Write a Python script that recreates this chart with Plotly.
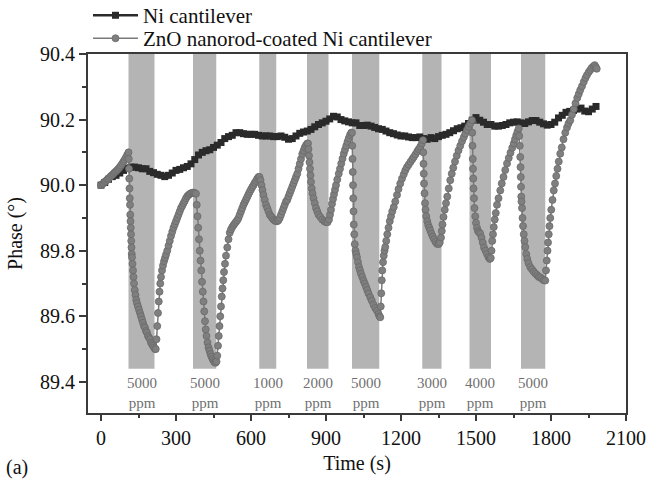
import plotly.graph_objects as go

# ---------------- data ----------------
# Ni cantilever (read every 15 s)
ni_time = list(range(0, 1981, 15))
ni_phase = [90.000, 90.008, 90.018, 90.026, 90.030, 90.037, 90.045, 90.052, 90.055, 90.055,
            90.053, 90.050, 90.050, 90.042, 90.038, 90.033, 90.030, 90.026, 90.030, 90.037,
            90.045, 90.048, 90.053, 90.057, 90.065, 90.078, 90.092, 90.100, 90.105, 90.108,
            90.115, 90.122, 90.130, 90.142, 90.148, 90.152, 90.160, 90.160, 90.157, 90.155,
            90.155, 90.155, 90.152, 90.150, 90.150, 90.150, 90.148, 90.148, 90.150, 90.146,
            90.140, 90.142, 90.150, 90.158, 90.162, 90.165, 90.170, 90.178, 90.185, 90.190,
            90.195, 90.202, 90.210, 90.208, 90.200, 90.196, 90.193, 90.190, 90.190, 90.182,
            90.182, 90.183, 90.180, 90.176, 90.172, 90.170, 90.165, 90.160, 90.157, 90.153,
            90.150, 90.150, 90.147, 90.145, 90.145, 90.147, 90.142, 90.140, 90.145, 90.142,
            90.148, 90.152, 90.155, 90.160, 90.166, 90.172, 90.175, 90.180, 90.188, 90.198,
            90.206, 90.198, 90.192, 90.185, 90.185, 90.180, 90.180, 90.182, 90.185, 90.190,
            90.192, 90.193, 90.190, 90.188, 90.193, 90.197, 90.197, 90.192, 90.187, 90.183,
            90.185, 90.192, 90.205, 90.213, 90.222, 90.225, 90.228, 90.232, 90.235, 90.226,
            90.224, 90.232, 90.240]

# ZnO nanorod-coated Ni cantilever, read segment by segment
seg_t = [
    [0, 5, 10, 15, 20, 25, 30, 35, 40, 45, 50, 55, 60, 65, 70, 75, 80, 85, 90, 95, 100, 105, 110],
    [111, 112, 113, 114, 115, 116, 117, 118, 119, 120, 121, 122, 123, 124, 126, 128, 130, 132, 135, 138,
     141, 144, 148, 152, 156, 160, 164, 168, 172, 176, 180, 184, 188, 192, 196, 200, 204, 208, 212, 216, 219],
    [222, 225, 228, 231, 234, 237, 240, 244, 248, 252, 256, 260, 265, 270, 275, 280, 285, 290, 295, 300,
     305, 310, 315, 320, 325, 330, 335, 340, 345, 350, 355, 360, 365, 370, 375, 380],
    [383, 386, 389, 392, 395, 398, 401, 404, 407, 410, 413, 416, 419, 422, 426, 430, 434, 438, 442, 446,
     450, 454, 458, 462],
    [465, 468, 471, 474, 477, 480, 483, 486, 489, 492, 496, 500, 505, 510, 515, 520, 525, 530, 535, 540,
     545, 550, 555, 560, 565, 570, 575, 580, 585, 590, 595, 600, 605, 610, 615, 620, 625, 630, 634],
    [638, 642, 646, 650, 655, 660, 665, 670, 675, 680, 685, 690, 695, 700, 705, 710],
    [715, 720, 725, 730, 735, 740, 745, 750, 755, 760, 765, 770, 775, 780, 785, 790, 795, 800, 805, 810,
     815, 820, 825, 828],
    [830, 832, 834, 836, 838, 840, 843, 846, 850, 855, 860, 865, 870, 877, 885, 893, 900, 906, 912],
    [916, 920, 924, 928, 932, 936, 940, 945, 951, 956, 961, 966, 971, 976, 981, 986, 991, 996, 1001, 1004],
    [1005, 1006, 1007, 1008, 1009, 1010, 1011, 1013, 1015, 1018, 1021, 1024, 1028, 1032, 1036, 1040, 1045,
     1050, 1055, 1060, 1065, 1070, 1077, 1083, 1090, 1097, 1104, 1110, 1114, 1117],
    [1119, 1121, 1123, 1125, 1128, 1131, 1134, 1137, 1141, 1145, 1150, 1155, 1160, 1165, 1171, 1177, 1184,
     1190, 1197, 1204, 1211, 1217, 1224, 1231, 1238, 1245, 1251, 1258, 1265, 1271, 1277, 1283, 1288],
    [1289, 1290, 1291, 1292, 1294, 1296, 1298, 1301, 1305, 1309, 1313, 1317, 1322, 1327, 1332, 1338, 1344,
     1350, 1355],
    [1360, 1363, 1366, 1370, 1375, 1380, 1385, 1391, 1397, 1403, 1409, 1416, 1423, 1430, 1437, 1444, 1451,
     1457, 1464, 1470, 1477, 1484],
    [1485, 1486, 1487, 1488, 1489, 1490, 1492, 1494, 1497, 1500, 1504, 1508, 1512, 1517, 1522, 1527, 1532,
     1538, 1544, 1550, 1555, 1559],
    [1562, 1565, 1568, 1571, 1575, 1579, 1584, 1590, 1597, 1603, 1610, 1617, 1624, 1631, 1638, 1645, 1651,
     1656, 1661, 1666, 1671],
    [1673, 1675, 1677, 1678, 1679, 1680, 1681, 1682, 1684, 1686, 1688, 1691, 1694, 1697, 1701, 1705, 1710,
     1717, 1724, 1731, 1738, 1745, 1751, 1757, 1764, 1771, 1777],
    [1780, 1783, 1786, 1788, 1791, 1794, 1797, 1801, 1806, 1811, 1816, 1821, 1826, 1831, 1837, 1843, 1850,
     1857, 1864, 1870, 1877, 1884, 1891, 1898, 1905, 1911, 1917, 1924, 1931, 1938, 1944, 1951, 1957, 1963,
     1970, 1975, 1979, 1983],
]
seg_v = [
    [90.000, 90.003, 90.006, 90.010, 90.013, 90.017, 90.020, 90.024, 90.028, 90.031, 90.035, 90.039,
     90.042, 90.046, 90.050, 90.055, 90.060, 90.066, 90.072, 90.078, 90.085, 90.093, 90.100],
    [90.08, 90.05, 90.02, 89.99, 89.96, 89.94, 89.91, 89.89, 89.87, 89.85, 89.83, 89.81, 89.79, 89.78,
     89.76, 89.74, 89.72, 89.70, 89.68, 89.665, 89.65, 89.64, 89.63, 89.62, 89.61, 89.60, 89.59, 89.58,
     89.57, 89.565, 89.555, 89.55, 89.54, 89.535, 89.53, 89.52, 89.515, 89.51, 89.505, 89.50, 89.50],
    [89.53, 89.57, 89.61, 89.645, 89.675, 89.70, 89.72, 89.74, 89.755, 89.768, 89.778, 89.788, 89.80,
     89.815, 89.83, 89.845, 89.858, 89.87, 89.88, 89.89, 89.90, 89.91, 89.92, 89.93, 89.937, 89.945,
     89.952, 89.96, 89.966, 89.97, 89.973, 89.975, 89.977, 89.977, 89.976, 89.974],
    [89.94, 89.905, 89.87, 89.835, 89.80, 89.77, 89.74, 89.705, 89.675, 89.645, 89.615, 89.585, 89.56,
     89.54, 89.52, 89.505, 89.495, 89.485, 89.477, 89.47, 89.465, 89.46, 89.458, 89.462],
    [89.48, 89.51, 89.54, 89.57, 89.60, 89.63, 89.66, 89.685, 89.71, 89.735, 89.76, 89.785, 89.81,
     89.835, 89.855, 89.865, 89.872, 89.878, 89.883, 89.888, 89.893, 89.90, 89.91, 89.92, 89.93, 89.94,
     89.948, 89.956, 89.964, 89.972, 89.98, 89.987, 89.994, 90.00, 90.007, 90.013, 90.02, 90.025, 90.025],
    [90.015, 90.00, 89.985, 89.97, 89.955, 89.94, 89.93, 89.92, 89.91, 89.905, 89.90, 89.895, 89.892,
     89.89, 89.89, 89.893],
    [89.90, 89.91, 89.92, 89.93, 89.94, 89.95, 89.955, 89.965, 89.975, 89.985, 89.995, 90.005, 90.015,
     90.025, 90.035, 90.05, 90.065, 90.08, 90.095, 90.105, 90.115, 90.122, 90.127, 90.127],
    [90.11, 90.09, 90.07, 90.05, 90.03, 90.01, 89.99, 89.975, 89.96, 89.945, 89.93, 89.92, 89.91, 89.903,
     89.895, 89.89, 89.887, 89.887, 89.895],
    [89.91, 89.925, 89.943, 89.958, 89.972, 89.986, 90.00, 90.017, 90.035, 90.05, 90.066, 90.081, 90.096,
     90.108, 90.12, 90.132, 90.143, 90.153, 90.16, 90.16],
    [90.12, 90.08, 90.04, 90.00, 89.96, 89.92, 89.88, 89.85, 89.82, 89.80, 89.79, 89.78, 89.765, 89.75,
     89.74, 89.73, 89.72, 89.709, 89.70, 89.69, 89.68, 89.67, 89.658, 89.648, 89.635, 89.625, 89.617,
     89.607, 89.60, 89.597],
    [89.63, 89.67, 89.71, 89.74, 89.765, 89.785, 89.80, 89.811, 89.83, 89.85, 89.87, 89.89, 89.905, 89.92,
     89.933, 89.95, 89.97, 89.988, 90.005, 90.02, 90.033, 90.045, 90.055, 90.063, 90.071, 90.079, 90.086,
     90.094, 90.103, 90.11, 90.117, 90.127, 90.137],
    [90.10, 90.065, 90.035, 90.005, 89.975, 89.945, 89.925, 89.905, 89.89, 89.878, 89.87, 89.862, 89.852,
     89.843, 89.835, 89.827, 89.821, 89.82, 89.825],
    [89.84, 89.86, 89.88, 89.903, 89.925, 89.945, 89.965, 89.99, 90.015, 90.035, 90.053, 90.072, 90.09,
     90.106, 90.12, 90.134, 90.146, 90.157, 90.168, 90.178, 90.188, 90.198],
    [90.16, 90.12, 90.08, 90.05, 90.02, 89.99, 89.96, 89.93, 89.905, 89.885, 89.87, 89.86, 89.856, 89.852,
     89.84, 89.825, 89.81, 89.80, 89.79, 89.78, 89.775, 89.778],
    [89.80, 89.83, 89.85, 89.872, 89.895, 89.915, 89.94, 89.96, 89.984, 90.005, 90.025, 90.046, 90.066,
     90.083, 90.099, 90.114, 90.127, 90.14, 90.152, 90.163, 90.173],
    [90.15, 90.12, 90.086, 90.055, 90.025, 89.995, 89.965, 89.95, 89.93, 89.90, 89.875, 89.85, 89.83,
     89.811, 89.79, 89.775, 89.762, 89.75, 89.743, 89.736, 89.73, 89.725, 89.72, 89.719, 89.714, 89.71,
     89.709],
    [89.74, 89.77, 89.80, 89.825, 89.85, 89.875, 89.90, 89.925, 89.955, 89.984, 90.005, 90.028, 90.05,
     90.072, 90.096, 90.115, 90.14, 90.16, 90.176, 90.188, 90.198, 90.215, 90.232, 90.25, 90.266, 90.278,
     90.29, 90.302, 90.315, 90.327, 90.336, 90.345, 90.351, 90.358, 90.363, 90.366, 90.36, 90.355],
]
zno_time = [t for seg in seg_t for t in seg]
zno_phase = [v for seg in seg_v for v in seg]
assert len(zno_time) == len(zno_phase), (len(zno_time), len(zno_phase))
assert len(ni_time) == len(ni_phase), (len(ni_time), len(ni_phase))

band_start = [110, 368, 633, 824, 1004, 1285, 1474, 1680]
band_end = [214, 461, 701, 910, 1113, 1362, 1560, 1777]
band_conc = ["5000", "5000", "1000", "2000", "5000", "3000", "4000", "5000"]

x_ticks = [0, 300, 600, 900, 1200, 1500, 1800, 2100]
y_ticks = [89.4, 89.6, 89.8, 90.0, 90.2, 90.4]

# ---------------- figure ----------------
FONT = "Liberation Serif"
AX = "#3a3a3a"
band_bottom = 89.44
label_y = 89.365

fig = go.Figure()

for s, e in zip(band_start, band_end):
    fig.add_shape(type="rect", xref="x", yref="y", x0=s, x1=e, y0=band_bottom, y1=90.4,
                  fillcolor="#b4b4b4", line_width=0, layer="below")

for s, e, c in zip(band_start, band_end, band_conc):
    fig.add_annotation(x=(s + e) / 2, y=label_y, xref="x", yref="y", text=f"{c}<br>ppm",
                       showarrow=False, font=dict(family=FONT, size=15, color="#707070"),
                       align="center")

fig.add_trace(go.Scatter(x=ni_time, y=ni_phase, mode="lines+markers", name="Ni cantilever",
                         line=dict(color="#2a2a2a", width=2.5),
                         marker=dict(symbol="square", size=7, color="#2a2a2a"),
                         legend="legend"))
fig.add_trace(go.Scatter(x=zno_time, y=zno_phase, mode="lines+markers",
                         name="ZnO nanorod-coated Ni cantilever",
                         line=dict(color="#7a7a7a", width=1.5),
                         marker=dict(symbol="circle", size=7, color="#7f7f7f",
                                     line=dict(color="#6a6a6a", width=0.8)),
                         legend="legend2"))

axis_common = dict(showline=True, linecolor=AX, linewidth=2, mirror=True, showgrid=False,
                   zeroline=False, ticks="outside", tickcolor=AX, tickwidth=2, automargin=False,
                   tickfont=dict(family=FONT, size=20, color="#111"))

fig.update_xaxes(range=[-52, 2100], tickvals=x_ticks, ticklen=6,
                 minor=dict(dtick=150, tick0=0, ticks="outside", ticklen=3, tickcolor=AX, tickwidth=2),
                 title=dict(text="Time (s)", font=dict(family=FONT, size=20, color="#111"), standoff=8),
                 **axis_common)
fig.update_yaxes(range=[89.305, 90.4], tickvals=y_ticks, tickformat=".1f", ticklen=7,
                 minor=dict(dtick=0.1, tick0=89.3, ticks="outside", ticklen=4, tickcolor=AX, tickwidth=2),
                 title=dict(text="Phase (°)", font=dict(family=FONT, size=20, color="#111"), standoff=12),
                 **axis_common)

fig.add_annotation(x=0.0, y=0.0, xref="paper", yref="paper", xanchor="left", yanchor="bottom",
                   xshift=-84, yshift=-68, text="(a)", showarrow=False,
                   font=dict(family=FONT, size=20, color="#111"))

leg_font = dict(family=FONT, size=21, color="#111")
fig.update_layout(
    width=647, height=482,
    margin=dict(l=88, r=21, t=54, b=69, autoexpand=False),
    paper_bgcolor="white", plot_bgcolor="white",
    showlegend=True,
    legend=dict(x=0.0, y=1.164, xref="paper", yref="paper", xanchor="left", yanchor="top",
                font=leg_font, bgcolor="rgba(0,0,0,0)", itemwidth=45),
    legend2=dict(x=0.0, y=1.100, xref="paper", yref="paper", xanchor="left", yanchor="top",
                 font=leg_font, bgcolor="rgba(0,0,0,0)", itemwidth=45),
)

fig.write_html("out.html")
